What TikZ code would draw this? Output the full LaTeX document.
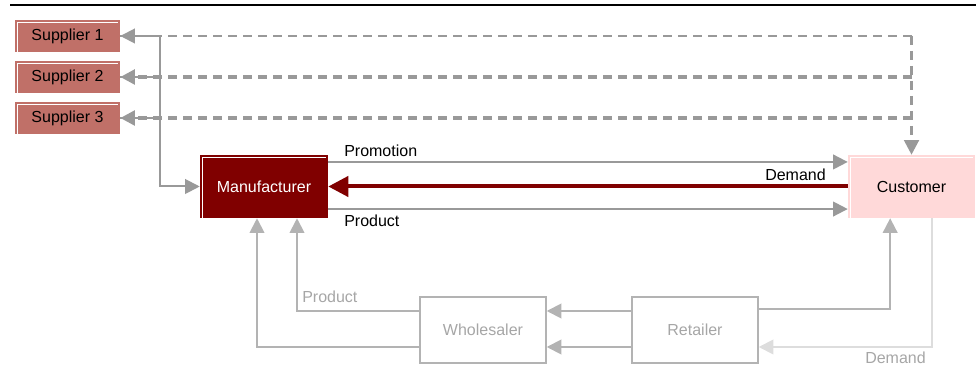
\documentclass[tikz,border=0pt]{standalone}
\usepackage{fontspec}
\setmainfont{Liberation Sans}
\usetikzlibrary{arrows.meta}
\definecolor{supfill}{HTML}{C07068}
\definecolor{manfill}{HTML}{800000}
\definecolor{custfill}{HTML}{FFD9D9}
\definecolor{flowgray}{HTML}{999999}
\definecolor{lightflow}{HTML}{B3B3B3}
\definecolor{lighttext}{HTML}{A6A6A6}
\definecolor{palegray}{HTML}{DDDDDD}

\begin{document}
\begin{tikzpicture}[x=0.75pt,y=-0.75pt,font=\fontsize{12}{14}\selectfont,
  box/.style={minimum width=96pt,minimum height=47.25pt,inner sep=0pt,
    path picture={\draw[white,line width=0.8pt]
      ([shift={(1.8pt,0pt)}]path picture bounding box.south west)
      |- ([shift={(-1.2pt,-1.8pt)}]path picture bounding box.north east);}},
  supbox/.style={box,fill=supfill,minimum width=78.75pt,minimum height=24pt},
  lbox/.style={draw=lightflow,line width=1.1pt,text=lighttext,
    minimum width=94.5pt,minimum height=49.5pt,inner sep=0pt},
  flow/.style={draw=flowgray,line width=1.5pt,-{Triangle[length=11pt,width=11pt]}},
  order/.style={draw=flowgray,dash pattern=on 6.75pt off 4.5pt,
    -{Triangle[length=11pt,width=11pt]}},
  lflow/.style={draw=lightflow,line width=1.4pt,-{Triangle[length=11pt,width=11pt]}},
  pale/.style={draw=palegray,line width=1.4pt,-{Triangle[length=11pt,width=11pt,fill=palegray]}}]
\useasboundingbox (0,0) rectangle (980,373);
% outline
\draw[line width=1.5pt] (10,5.5) -- (976,5.5);
% nodes
\node[supbox] (sup1) at (67.5,36) {Supplier 1};
\node[supbox] (sup2) at (67.5,77) {Supplier 2};
\node[supbox] (sup3) at (67.5,118) {Supplier 3};
\node[box,fill=manfill,text=white] (manu) at (264,186.5) {Manufacturer};
\node[box,fill=custfill,minimum width=95.25pt] (cust) at (911.5,186.5) {Customer};
\node[lbox] (whole) at (483,330) {Wholesaler};
\node[lbox] (retail) at (695,330) {Retailer};
% orders to suppliers
\coordinate (turn) at (sup1.east -| cust.north);
\draw[order,line width=1.5pt,-] (turn) -- (sup1.east);
\draw[flowgray,line width=1.5pt,{Triangle[length=11pt,width=11pt]}-] (sup1.east) -- ++(10,0);
\draw[order,line width=2.2pt] (turn) -- (cust.north);
\draw[order,line width=2.6pt] (sup2.east -| cust.north) -- (sup2.east);
\draw[order,line width=2.6pt] (sup3.east -| cust.north) -- (sup3.east);
% supplies
\coordinate (bus) at (160,186.5);
\draw[flow] (sup1.east) -| (bus) -- (manu.west);
\draw[flow,-] (sup2.east) -- (sup2.east -| bus);
\draw[flow,-] (sup3.east) -- (sup3.east -| bus);
% main channel
\draw[flow] ([yshift=18.4pt]manu.east) -- ([yshift=18.4pt]cust.west);
\draw[flow] ([yshift=-16.9pt]manu.east) -- ([yshift=-16.9pt]cust.west);
\draw[manfill,line width=3pt,-{Triangle[length=15pt,width=15pt]}] (cust.west) -- (manu.east);
\node[anchor=west,inner sep=0pt] (promo) at (344,151) {Promotion};
\node[anchor=east,inner sep=0pt] (dem) at (826,175) {Demand};
\node[anchor=west,inner sep=0pt] (prod) at (344,221) {Product};
% indirect channel
\draw[lflow] ([yshift=14.25pt]retail.west) -- ([yshift=14.25pt]whole.east);
\draw[lflow] ([yshift=-12.75pt]retail.west) -- ([yshift=-12.75pt]whole.east);
\draw[lflow] ([yshift=14.25pt]whole.west) -| ([xshift=24.75pt]manu.south);
\draw[lflow] ([yshift=-12.75pt]whole.west) -| ([xshift=-5.25pt]manu.south);
\draw[lflow] ([yshift=15.75pt]retail.east) -| ([xshift=-16pt]cust.south);
\draw[pale] ([xshift=15.4pt]cust.south) |- ([yshift=-12.75pt]retail.east);
\node[anchor=west,inner sep=0pt,text=lighttext] (lprod) at (302,297) {Product};
\node[anchor=west,inner sep=0pt,text=lighttext] (ldem) at (865,358) {Demand};
\end{tikzpicture}
\end{document}
